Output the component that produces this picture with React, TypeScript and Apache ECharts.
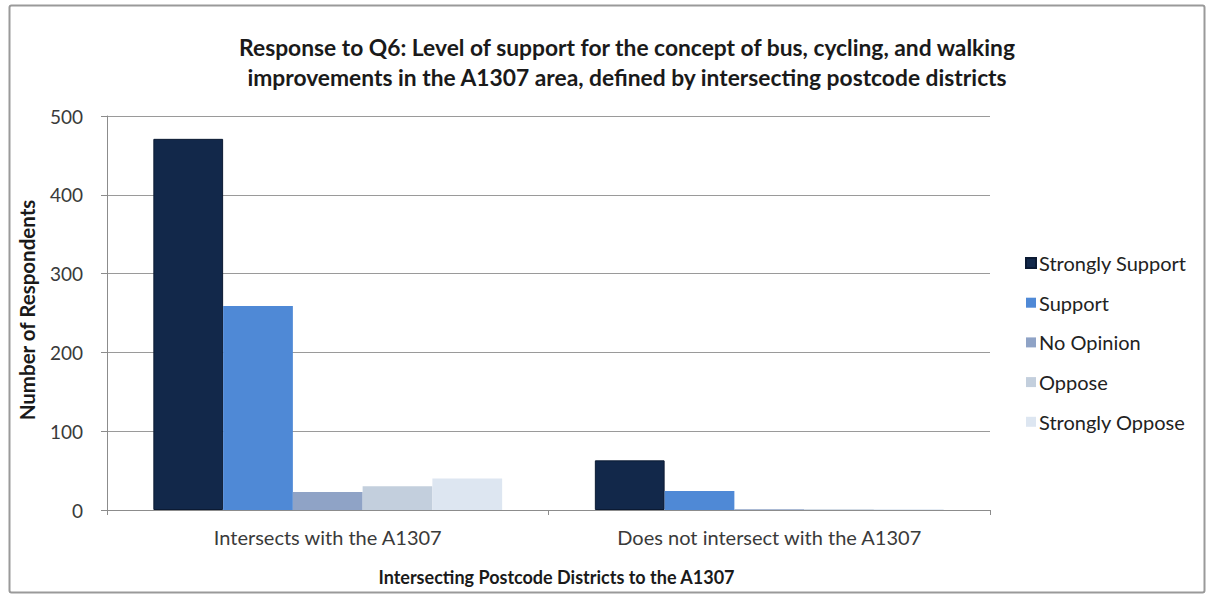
import React, { useEffect, useRef } from "react";
import * as echarts from "echarts";

const categories = ["Intersects with the A1307", "Does not intersect with the A1307"];
const seriesNames = ["Strongly Support", "Support", "No Opinion", "Oppose", "Strongly Oppose"];
const stronglySupport = [471, 63];
const support = [259, 24];
const noOpinion = [23, 1];
const oppose = [30, 1];
const stronglyOppose = [40, 1];
const seriesValues = [stronglySupport, support, noOpinion, oppose, stronglyOppose];
const colors = ["#12284a", "#4f89d6", "#8fa3c6", "#c3cfdd", "#dde6f1"];
const yTicks = [0, 100, 200, 300, 400, 500];

const FONT = "Lato, 'Open Sans', sans-serif";

export default function App() {
  const ref = useRef<HTMLDivElement>(null);
  useEffect(() => {
    if (!ref.current) return;
    const chart = echarts.init(ref.current, null, { renderer: "svg" });
    chart.setOption({
      animation: false,
      backgroundColor: "#ffffff",
      textStyle: { fontFamily: FONT },
      title: {
        text: "Response to Q6: Level of support for the concept of bus, cycling, and walking\nimprovements in the A1307 area, defined by intersecting postcode districts",
        left: 622,
        top: 27,
        textAlign: "center",
        textStyle: { fontSize: 22.8, fontWeight: "bold", color: "#1a1a1a", lineHeight: 30, fontFamily: FONT },
      },
      legend: {
        orient: "vertical",
        left: 1020,
        top: 248,
        itemWidth: 10,
        itemHeight: 10,
        itemGap: 19.7,
        icon: "rect",
        data: seriesNames,
        textStyle: { fontSize: 20, color: "#222", fontFamily: FONT, padding: [0, 0, 0, -2] },
      },
      grid: { left: 107, right: 220, top: 116, bottom: 86, containLabel: false },
      xAxis: {
        type: "category",
        data: categories,
        name: "Intersecting Postcode Districts to the A1307",
        nameLocation: "middle",
        nameGap: 58,
        nameTextStyle: { fontSize: 18, fontWeight: "bold", color: "#1a1a1a", fontFamily: FONT, padding: [0, 0, 0, 16] },
        axisLine: { lineStyle: { color: "#8c8c8c", width: 1 } },
        axisTick: { show: true, length: 5, lineStyle: { color: "#8c8c8c" } },
        axisLabel: { fontSize: 20, color: "#3a3a3a", margin: 17, fontFamily: FONT },
      },
      yAxis: {
        type: "value",
        min: 0,
        max: 500,
        interval: 100,
        name: "Number of Respondents",
        nameLocation: "middle",
        nameGap: 70,
        nameRotate: 90,
        nameTextStyle: { fontSize: 20.5, fontWeight: "bold", color: "#1a1a1a", fontFamily: FONT, padding: [0, 0, 0, 6] },
        axisLine: { show: true, lineStyle: { color: "#8c8c8c", width: 1 } },
        axisTick: { show: true, length: 6, lineStyle: { color: "#8c8c8c" } },
        axisLabel: {
          fontSize: 19,
          color: "#3a3a3a",
          margin: 24,
          fontFamily: FONT,
          formatter: (v: number) => (yTicks.includes(v) ? String(v) : ""),
        },
        splitLine: { show: true, lineStyle: { color: "#9a9a9a", width: 1 } },
      },
      series: seriesNames.map((name, i) => ({
        name,
        type: "bar",
        data: seriesValues[i],
        barGap: "0%",
        barCategoryGap: "21%",
        itemStyle: {
          color: colors[i],
          borderColor: i === 0 ? "#0b1a33" : colors[i],
          borderWidth: i === 0 ? 1 : 0,
        },
      })),
      graphic: [
        {
          type: "rect",
          shape: { x: 9.5, y: 5.5, width: 1195, height: 587, r: 2 },
          style: { fill: "none", stroke: "#9a9a9a", lineWidth: 2 },
          silent: true,
          z: 100,
        },
      ],
    });
    return () => chart.dispose();
  }, []);
  return (
    <div
      ref={ref}
      style={{ position: "fixed", left: 0, top: 0, width: 1210, height: 596, background: "#fff" }}
    />
  );
}
